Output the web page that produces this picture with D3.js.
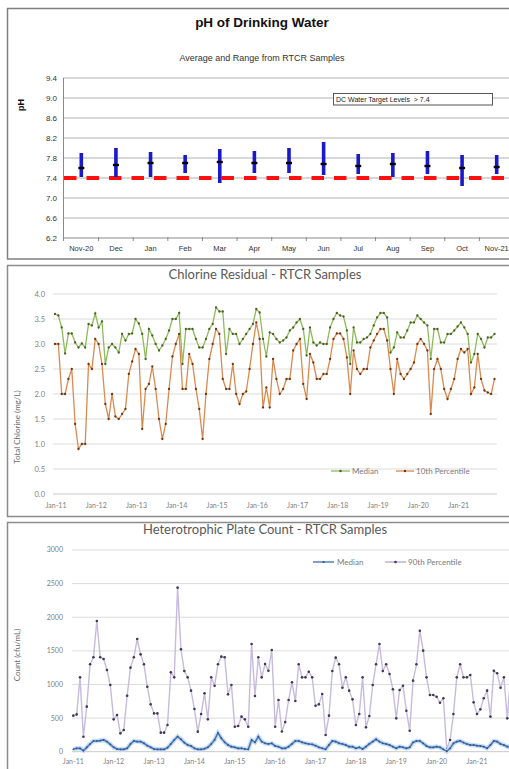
<!DOCTYPE html>
<html><head><meta charset="utf-8">
<script src="https://cdn.jsdelivr.net/npm/d3@7"></script>
<style>body{margin:0;background:#fff;} svg{display:block;}</style>
</head><body><svg id="c" width="509" height="769"></svg>
<script>
// ---------- Panel 1: pH ----------
const phMonths = ["Nov-20","Dec","Jan","Feb","Mar","Apr","May","Jun","Jul","Aug","Sep","Oct","Nov-21"];
const phMax = [7.9,8.0,7.92,7.86,7.98,7.94,8.0,8.12,7.88,7.9,7.94,7.86,7.86];
const phMin = [7.42,7.42,7.42,7.5,7.3,7.5,7.5,7.46,7.48,7.42,7.48,7.24,7.48];
const phAvg = [7.6,7.66,7.7,7.7,7.72,7.7,7.7,7.68,7.64,7.68,7.64,7.6,7.62];
const phTarget = 7.4;
const phTicks = [6.2,6.6,7.0,7.4,7.8,8.2,8.6,9.0,9.4];

// ---------- Panel 2: Chlorine ----------
const clMedian = [3.6,3.57,3.33,2.81,3.21,3.21,3.03,2.93,3.01,2.93,
3.4,3.37,3.61,3.33,3.45,2.6,2.93,3.0,2.93,2.83,
3.2,3.07,3.2,3.21,3.5,3.41,3.2,2.7,3.3,3.17,
3.0,2.87,2.97,3.1,3.27,3.5,3.5,3.62,2.6,3.3,
3.3,3.3,3.1,2.93,2.93,3.1,3.3,3.4,3.73,3.65,
3.65,2.8,3.3,3.2,3.2,3.0,3.1,3.2,3.3,3.4,
3.7,3.63,3.1,2.75,3.23,3.2,3.1,3.03,3.07,3.13,
3.27,3.33,3.43,3.5,3.3,2.77,3.33,3.03,2.97,3.03,
3.0,3.0,3.33,3.5,3.62,3.57,3.55,3.27,2.6,3.33,
3.03,3.03,3.1,3.13,3.2,3.37,3.53,3.62,3.62,3.53,
2.83,2.93,3.23,3.13,3.13,3.27,3.43,3.43,3.57,3.5,
3.43,3.37,2.7,3.3,3.3,3.03,3.03,3.2,3.2,3.27,
3.35,3.43,3.33,3.2,2.63,2.8,3.2,3.1,2.93,3.13,
3.13,3.2];
const clP10 = [3.0,3.0,2.0,2.0,2.3,2.5,1.4,0.9,1.0,1.0,
2.6,2.5,3.1,3.0,2.6,1.8,1.5,2.0,1.55,1.5,
1.6,1.7,2.4,2.65,2.9,2.8,1.3,2.1,2.2,2.55,
2.1,1.5,1.1,1.4,2.1,2.75,3.0,3.2,2.1,2.1,
2.8,2.6,2.1,1.7,1.1,2.0,2.7,3.0,3.3,3.2,
2.3,2.1,2.1,2.6,2.0,1.8,2.0,2.05,2.5,3.0,
3.43,3.1,1.73,2.13,1.73,2.7,2.3,2.0,2.1,2.3,
2.3,2.87,3.0,3.1,2.2,1.9,2.8,2.63,2.3,2.3,
2.4,2.4,2.7,3.1,3.21,3.21,3.1,2.73,2.0,2.87,
2.5,2.4,2.5,2.5,2.93,3.07,3.2,3.3,3.3,3.07,
2.5,2.0,2.7,2.4,2.3,2.4,2.5,2.63,3.0,3.1,
3.0,2.87,1.6,2.5,2.7,2.5,2.1,1.9,2.1,2.3,
2.7,2.9,2.83,2.9,2.0,2.13,2.8,2.3,2.07,2.03,
2.0,2.3];
const clTicks = [0,0.5,1.0,1.5,2.0,2.5,3.0,3.5,4.0];

// ---------- Panel 3: HPC ----------
const hpcMedian = [35,50,50,15,65,115,160,160,165,175,
150,110,65,40,35,35,50,115,160,150,
150,125,90,65,40,35,35,35,60,115,
175,225,185,135,100,85,50,35,35,45,
65,115,175,280,200,140,100,75,65,50,
50,40,35,175,140,225,150,125,115,125,
85,75,50,50,75,115,160,160,140,125,
115,110,90,65,50,35,100,160,150,125,
115,100,75,75,50,65,40,75,115,150,
185,150,125,115,100,75,50,75,65,50,
65,140,160,160,125,85,65,65,75,65,
35,5,50,125,150,160,135,115,100,100,
90,85,75,50,100,160,150,115,100,75,
75,75];
const hpcP90 = [536,555,1106,223,670,1300,1404,1944,1404,1379,
1215,992,481,546,273,322,833,1250,1404,1676,
1448,1300,967,704,570,570,283,283,397,1180,
1106,2440,1523,1200,1106,908,635,298,560,868,
481,1106,982,1300,1414,1404,853,992,372,382,
521,481,372,1602,828,1404,1106,1304,1205,1513,
372,769,300,440,769,1032,754,1300,1106,1106,
1190,1106,684,704,858,248,536,1200,1399,1300,
952,1106,908,779,397,560,1106,362,531,992,
1300,1602,1200,1300,1156,928,496,918,982,610,
312,1057,1300,1800,1503,1106,843,843,818,729,
794,40,174,560,1106,1300,1106,1106,1141,734,
560,630,794,908,521,1205,1166,952,1106,496,
1130,500];
const hpcTicks = [0,500,1000,1500,2000,2500,3000];
const yearLabels = ["Jan-11","Jan-12","Jan-13","Jan-14","Jan-15","Jan-16","Jan-17","Jan-18","Jan-19","Jan-20","Jan-21"];

const svg = d3.select("#c");
const SANS = "'Liberation Sans', Arial, sans-serif";
const CAL = "Lato, 'Open Sans', sans-serif";

// ================= PANEL 1 =================
const p1 = svg.append("g");
p1.append("rect").attr("x",7.5).attr("y",8.5).attr("width",530).attr("height",250.5)
  .attr("fill","#fff").attr("stroke","#7f7f7f").attr("stroke-width",1.5);
p1.append("text").attr("x",262).attr("y",27).attr("text-anchor","middle")
  .attr("font-family",SANS).attr("font-weight","bold").attr("font-size",13.5).attr("fill","#111")
  .text("pH of Drinking Water");
p1.append("text").attr("x",262).attr("y",61).attr("text-anchor","middle")
  .attr("font-family",SANS).attr("font-size",9).attr("fill","#333")
  .text("Average and Range from RTCR Samples");

const phY = d3.scaleLinear().domain([6.2,9.4]).range([238,78]);
const phX = d3.scaleBand().domain(phMonths).range([64,514]);
p1.selectAll(".g1").data(phTicks).join("line")
  .attr("x1",63).attr("x2",520).attr("y1",d=>phY(d)).attr("y2",d=>phY(d))
  .attr("stroke",(d,i)=>i===0?"#8a8a8a":"#b0b0b0").attr("stroke-width",1);
p1.append("line").attr("x1",63.5).attr("x2",63.5).attr("y1",phY(9.4)).attr("y2",phY(6.2)+3)
  .attr("stroke","#8a8a8a");
p1.selectAll(".yl1").data(phTicks).join("text")
  .attr("x",57).attr("y",d=>phY(d)).attr("dy","0.35em").attr("text-anchor","end")
  .attr("font-family",SANS).attr("font-size",8).attr("fill","#333").text(d=>d.toFixed(1));
p1.selectAll(".tk1").data(phMonths).join("line")
  .attr("x1",d=>phX(d)+phX.bandwidth()).attr("x2",d=>phX(d)+phX.bandwidth())
  .attr("y1",phY(6.2)-1).attr("y2",phY(6.2)+3).attr("stroke","#8a8a8a");
p1.selectAll(".xl1").data(phMonths).join("text")
  .attr("x",d=>phX(d)+phX.bandwidth()/2).attr("y",251).attr("text-anchor","middle")
  .attr("font-family",SANS).attr("font-size",7.5).attr("fill","#333").text(d=>d);
p1.append("text").attr("transform","translate(24,105) rotate(-90)").attr("text-anchor","middle")
  .attr("font-family",SANS).attr("font-weight","bold").attr("font-size",9).attr("fill","#111").text("pH");
// target line
p1.append("line").attr("x1",64).attr("x2",520).attr("y1",phY(phTarget)).attr("y2",phY(phTarget))
  .attr("stroke","#ff1010").attr("stroke-width",4).attr("stroke-dasharray","12.5,10");
// range bars
p1.selectAll(".bar").data(phMonths).join("rect")
  .attr("x",d=>phX(d)+phX.bandwidth()/2-1.8).attr("width",3.6)
  .attr("y",(d,i)=>phY(phMax[i])).attr("height",(d,i)=>phY(phMin[i])-phY(phMax[i]))
  .attr("fill","#1a1ac8");
p1.selectAll(".avg").data(phMonths).join("rect")
  .attr("x",d=>phX(d)+phX.bandwidth()/2-3).attr("width",6)
  .attr("y",(d,i)=>phY(phAvg[i])-1.2).attr("height",2.4).attr("fill","#000");
// target legend box
p1.append("rect").attr("x",333.5).attr("y",93.5).attr("width",159).attr("height",11.5)
  .attr("fill","#fff").attr("stroke","#555").attr("stroke-width",1);
p1.append("text").attr("x",336).attr("y",102).attr("font-family",SANS).attr("font-size",7)
  .attr("fill","#222").style("white-space","pre").text("DC Water Target Levels  > 7.4");

// ================= PANEL 2 =================
const p2 = svg.append("g");
p2.append("rect").attr("x",7.5).attr("y",265.5).attr("width",530).attr("height",251)
  .attr("fill","#fff").attr("stroke","#8c8c8c").attr("stroke-width",1.5);
p2.append("text").attr("x",265).attr("y",279).attr("text-anchor","middle")
  .attr("font-family",CAL).attr("font-size",13).attr("fill","#595959")
  .text("Chlorine Residual - RTCR Samples");
const c2Y = d3.scaleLinear().domain([0,4]).range([494,294]);
const c2X = d3.scaleLinear().domain([0,131]).range([55,494.5]);
p2.selectAll(".g2").data(clTicks).join("line")
  .attr("x1",53).attr("x2",497).attr("y1",d=>c2Y(d)).attr("y2",d=>c2Y(d))
  .attr("stroke",(d,i)=>i===0?"#c8c8c8":"#dcdcdc").attr("stroke-width",1);
p2.selectAll(".yl2").data(clTicks).join("text")
  .attr("x",45).attr("y",d=>c2Y(d)).attr("dy","0.35em").attr("text-anchor","end")
  .attr("font-family",CAL).attr("font-size",7.5).attr("fill","#808080").text(d=>d.toFixed(1));
p2.selectAll(".xl2").data(yearLabels).join("text")
  .attr("x",(d,i)=>c2X(i*12)+1).attr("y",507.5).attr("text-anchor","middle")
  .attr("font-family",CAL).attr("font-size",7).attr("fill","#808080").text(d=>d);
p2.append("text").attr("transform","translate(20,427) rotate(-90)").attr("text-anchor","middle")
  .attr("font-family",CAL).attr("font-size",8).attr("fill","#6a6a6a").text("Total Chlorine (mg/L)");
const l2 = d3.line().x((d,i)=>c2X(i)).y(d=>c2Y(d));
p2.append("path").datum(clMedian).attr("d",l2).attr("fill","none").attr("stroke","#8dbb5a").attr("stroke-width",1.3);
p2.append("path").datum(clP10).attr("d",l2).attr("fill","none").attr("stroke","#d98a4e").attr("stroke-width",1.3);
p2.selectAll(".m2a").data(clMedian).join("circle").attr("cx",(d,i)=>c2X(i)).attr("cy",d=>c2Y(d))
  .attr("r",1.15).attr("fill","#4d5d2a");
p2.selectAll(".m2b").data(clP10).join("circle").attr("cx",(d,i)=>c2X(i)).attr("cy",d=>c2Y(d))
  .attr("r",1.15).attr("fill","#6e3412");
// legend
const lg2 = p2.append("g").attr("font-family",CAL).attr("font-size",8).attr("fill","#7a7a7a");
lg2.append("line").attr("x1",331).attr("x2",350).attr("y1",471).attr("y2",471).attr("stroke","#8dbb5a").attr("stroke-width",1.3);
lg2.append("circle").attr("cx",340.5).attr("cy",471).attr("r",1.2).attr("fill","#4d5d2a");
lg2.append("text").attr("x",352).attr("y",474).text("Median");
lg2.append("line").attr("x1",396).attr("x2",414).attr("y1",471).attr("y2",471).attr("stroke","#d98a4e").attr("stroke-width",1.3);
lg2.append("circle").attr("cx",405).attr("cy",471).attr("r",1.2).attr("fill","#6e3412");
lg2.append("text").attr("x",416).attr("y",474).text("10th Percentile");

// ================= PANEL 3 =================
const p3 = svg.append("g");
p3.append("rect").attr("x",7.5).attr("y",522.5).attr("width",530).attr("height",270)
  .attr("fill","#fff").attr("stroke","#8c8c8c").attr("stroke-width",1.5);
p3.append("text").attr("x",265).attr("y",534).attr("text-anchor","middle")
  .attr("font-family",CAL).attr("font-size",13).attr("fill","#595959")
  .text("Heterotrophic Plate Count - RTCR Samples");
const h3Y = d3.scaleLinear().domain([0,3000]).range([751.7,550]);
const h3X = d3.scaleLinear().domain([0,131]).range([73.3,514]);
p3.selectAll(".g3").data(hpcTicks).join("line")
  .attr("x1",72).attr("x2",530).attr("y1",d=>h3Y(d)).attr("y2",d=>h3Y(d))
  .attr("stroke",(d,i)=>i===0?"#c8c8c8":"#dcdcdc").attr("stroke-width",1);
p3.selectAll(".yl3").data(hpcTicks).join("text")
  .attr("x",63).attr("y",d=>h3Y(d)).attr("dy","0.35em").attr("text-anchor","end")
  .attr("font-family",CAL).attr("font-size",7).attr("fill","#808080").text(d=>d);
p3.selectAll(".xl3").data(yearLabels).join("text")
  .attr("x",(d,i)=>h3X(i*12)).attr("y",764).attr("text-anchor","middle")
  .attr("font-family",CAL).attr("font-size",7).attr("fill","#808080").text(d=>d);
p3.append("text").attr("transform","translate(20,655) rotate(-90)").attr("text-anchor","middle")
  .attr("font-family",CAL).attr("font-size",8).attr("fill","#6a6a6a").text("Count (cfu/mL)");
const l3 = d3.line().x((d,i)=>h3X(i)).y(d=>h3Y(d));
p3.append("path").datum(hpcP90).attr("d",l3).attr("fill","none").attr("stroke","#c6bbdd").attr("stroke-width",1.4);
p3.selectAll(".m3b").data(hpcP90).join("circle").attr("cx",(d,i)=>h3X(i)).attr("cy",d=>h3Y(d))
  .attr("r",1.3).attr("fill","#3e3852");
p3.append("path").datum(hpcMedian).attr("d",l3).attr("fill","none").attr("stroke","#c9def2").attr("stroke-width",4.5);
p3.append("path").datum(hpcMedian).attr("d",l3).attr("fill","none").attr("stroke","#4a78b0").attr("stroke-width",1.6);
p3.selectAll(".m3a").data(hpcMedian).join("circle").attr("cx",(d,i)=>h3X(i)).attr("cy",d=>h3Y(d))
  .attr("r",0.9).attr("fill","#2f5597");
// legend
const lg3 = p3.append("g").attr("font-family",CAL).attr("font-size",8).attr("fill","#7a7a7a");
lg3.append("line").attr("x1",313).attr("x2",334).attr("y1",562).attr("y2",562).attr("stroke","#4a78b0").attr("stroke-width",1.4);
lg3.append("circle").attr("cx",323.5).attr("cy",562).attr("r",1.1).attr("fill","#2f5597");
lg3.append("text").attr("x",337).attr("y",565).text("Median");
lg3.append("line").attr("x1",385).attr("x2",406).attr("y1",562).attr("y2",562).attr("stroke","#b0a6c8").attr("stroke-width",1.3);
lg3.append("circle").attr("cx",395.5).attr("cy",562).attr("r",1.3).attr("fill","#3e3852");
lg3.append("text").attr("x",408).attr("y",565).text("90th Percentile");
</script></body></html>
